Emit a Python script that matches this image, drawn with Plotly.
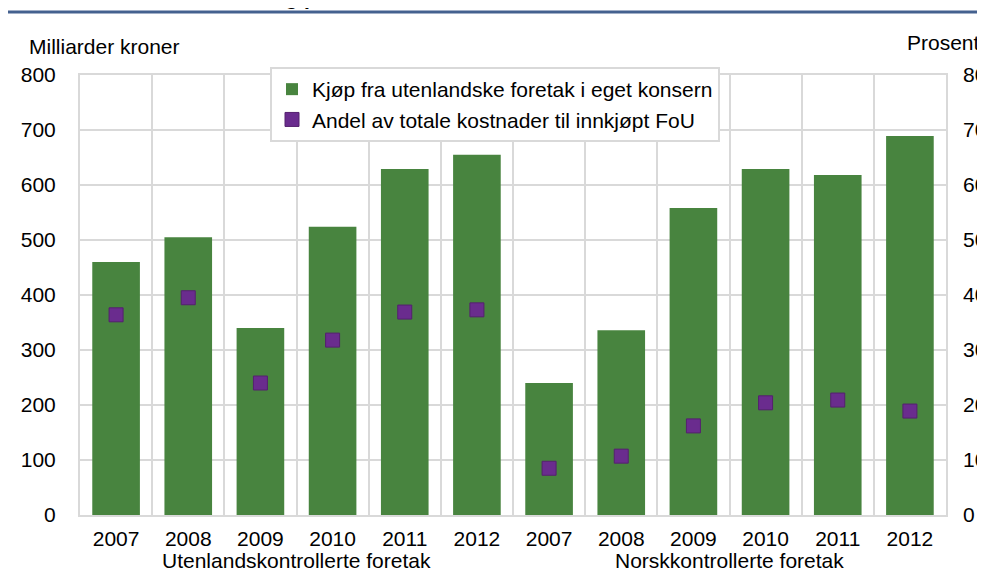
import plotly.graph_objects as go

# data
groups = ["Utenlandskontrollerte foretak", "Norskkontrollerte foretak"]
years = ["2007", "2008", "2009", "2010", "2011", "2012"]
kjop_mrd = [460, 505, 340, 524, 629, 655,
            240, 336, 558, 629, 618, 689]
andel_pct = [36.4, 39.5, 24.0, 31.8, 36.9, 37.3,
             8.5, 10.7, 16.2, 20.4, 20.9, 18.9]

labels = years * len(groups)
xpos = list(range(len(labels)))

GREEN = "#48843F"
PURPLE = "#6A2C8E"
GRID = "#D9D9D9"
FONT = "Arial, Liberation Sans, sans-serif"
FS = 21

# the page body adds an 8px margin, so layout is worked out in window pixels
# and shifted back by that offset
OFF = 8
W, H = 985, 572
L = 80 - OFF
T = 75 - OFF
R = W - (946 - OFF)
B = H - (515 - OFF)
pw, ph = W - L - R, H - T - B


def px_x(x):
    return (x - OFF - L) / pw


def px_y(y):
    return (H - B - (y - OFF)) / ph


fig = go.Figure()
fig.add_trace(go.Bar(
    x=xpos, y=kjop_mrd, width=0.66,
    name="Kjøp fra utenlandske foretak i eget konsern",
    marker=dict(color=GREEN, line=dict(width=0)),
))
fig.add_trace(go.Scatter(
    x=xpos, y=andel_pct, yaxis="y2", mode="markers",
    name="Andel av totale kostnader til innkjøpt FoU",
    marker=dict(symbol="square", size=14, color=PURPLE,
                line=dict(color="#55206F", width=1)),
))

fig.update_layout(
    width=W, height=H,
    margin=dict(l=L, r=R, t=T, b=B),
    paper_bgcolor="white", plot_bgcolor="white",
    font=dict(family=FONT, size=FS, color="#000000"),
    showlegend=True,
    legend=dict(
        x=px_x(270), y=px_y(67), xanchor="left", yanchor="top",
        bgcolor="white", bordercolor=GRID, borderwidth=2,
        font=dict(size=FS), tracegroupgap=0,
    ),
    xaxis=dict(
        range=[-0.5, len(labels) - 0.5],
        tickmode="array", tickvals=xpos, ticktext=labels,
        showgrid=False, zeroline=False, ticks="",
        showline=True, linecolor=GRID, linewidth=2, mirror=True,
        minor=dict(tick0=-0.5, dtick=1, showgrid=True,
                   gridcolor=GRID, gridwidth=2),
        ticklabelstandoff=4, automargin=False,
    ),
    yaxis=dict(
        range=[0, 800], dtick=100, showgrid=True, gridcolor=GRID,
        gridwidth=2, zeroline=False, ticks="",
        showline=True, linecolor=GRID, linewidth=2, mirror=True,
        ticklabelstandoff=18, automargin=False,
    ),
    yaxis2=dict(
        range=[0, 80], dtick=10, overlaying="y", side="right",
        showgrid=False, zeroline=False, ticks="", showline=False,
        ticklabelstandoff=16, automargin=False,
    ),
)

# group labels under the year ticks
for i, g in enumerate(groups):
    n = len(years)
    center = i * n + (n - 1) / 2
    fig.add_annotation(
        x=center, xref="x", y=px_y(560), yref="paper",
        text=g, showarrow=False, yanchor="middle",
        font=dict(size=FS),
    )

# axis unit labels
fig.add_annotation(x=px_x(27), y=px_y(46), xref="paper", yref="paper",
                   text="Milliarder kroner", showarrow=False,
                   xanchor="left", yanchor="middle", font=dict(size=FS))
fig.add_annotation(x=px_x(982), y=px_y(42), xref="paper", yref="paper",
                   text="Prosent", showarrow=False,
                   xanchor="right", yanchor="middle", font=dict(size=FS))

# title, mostly cut off at the top edge as in the reference
fig.add_annotation(x=px_x(383), y=px_y(11), xref="paper", yref="paper",
                   text="<b>Milliarder kroner og prosent</b>", showarrow=False,
                   xanchor="right", yanchor="bottom", font=dict(size=FS))
fig.add_shape(type="line", xref="paper", yref="paper",
              x0=px_x(5), x1=px_x(990), y0=px_y(12), y1=px_y(12),
              line=dict(color="#44618F", width=3))

fig.write_html("out.html")
